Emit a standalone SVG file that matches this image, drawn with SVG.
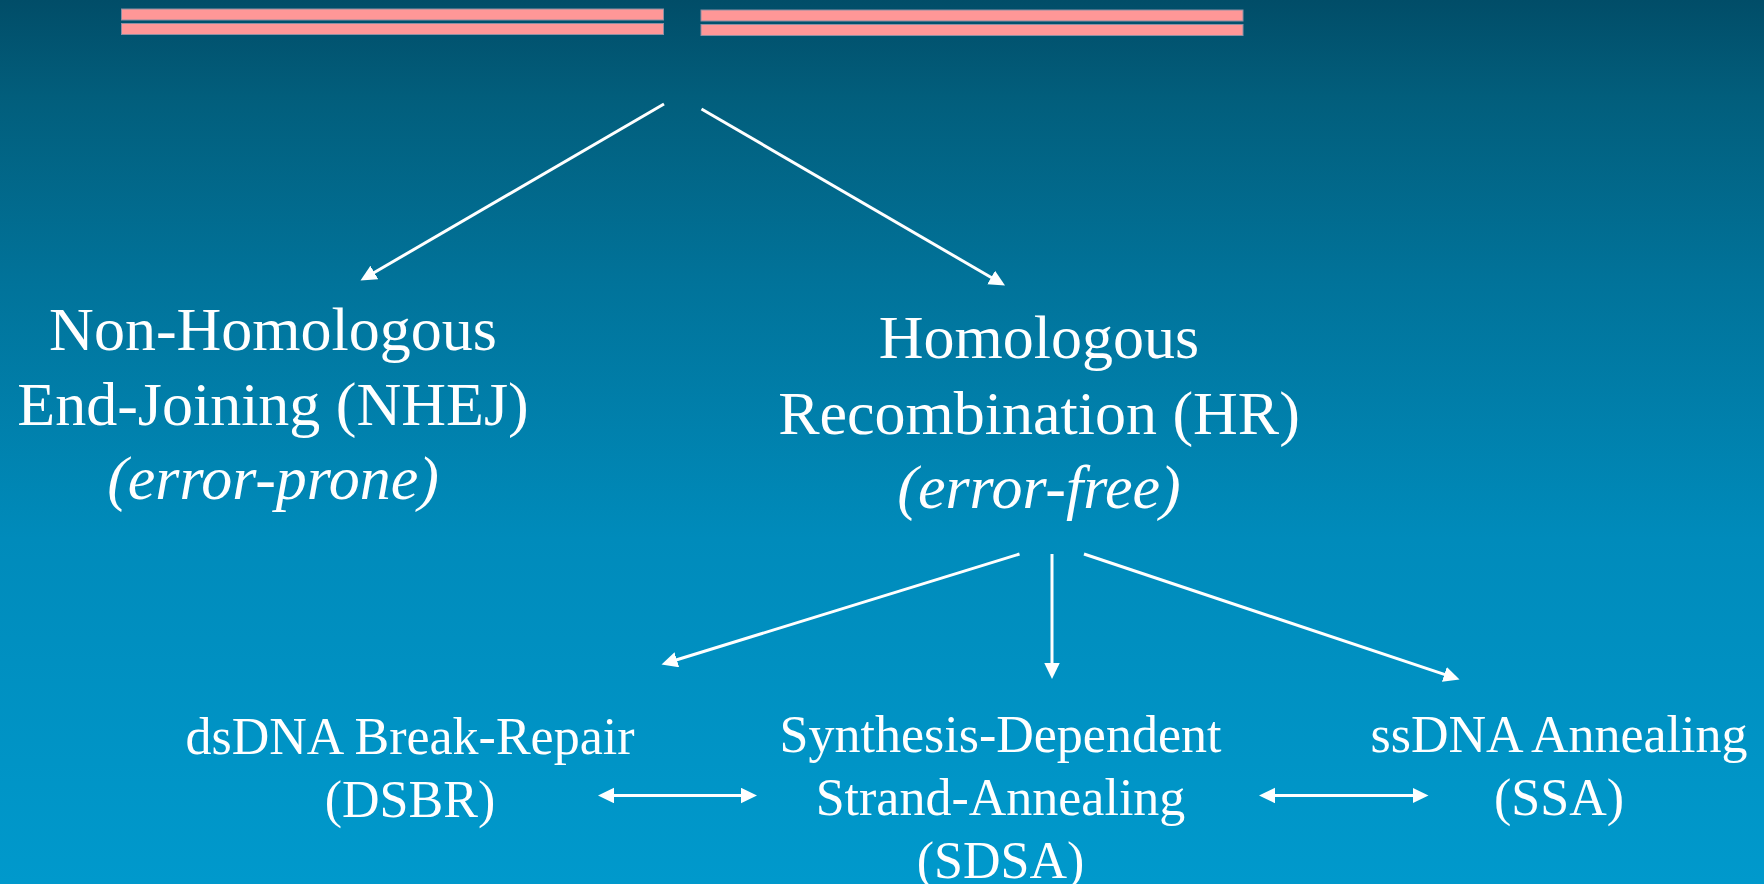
<svg xmlns="http://www.w3.org/2000/svg" width="1764" height="884" viewBox="0 0 1764 884">
  <defs>
    <linearGradient id="bg" x1="0" y1="0" x2="0" y2="1">
      <stop offset="0" stop-color="#014d68"/>
      <stop offset="0.11" stop-color="#025e7c"/>
      <stop offset="0.32" stop-color="#01739a"/>
      <stop offset="0.61" stop-color="#008bbb"/>
      <stop offset="1" stop-color="#0099cc"/>
    </linearGradient>
    <marker id="head" markerUnits="userSpaceOnUse" markerWidth="17" markerHeight="16" viewBox="0 0 17 16" refX="11" refY="7.75" orient="auto-start-reverse">
      <path d="M0,0 L16,7.75 L0,15.5 z" fill="#ffffff"/>
    </marker>
    <style>
      .strand { fill: #ff9797; stroke: #8d8fa3; stroke-width: 1; }
      .conn { stroke: #ffffff; stroke-width: 3; fill: none; marker-end: url(#head); }
      .both { marker-start: url(#head); }
      text { font-family: "Liberation Serif", "Times New Roman", serif; fill: #ffffff; text-anchor: middle; }
      .big { font-size: 62px; }
      .small { font-size: 52px; }
      .it { font-style: italic; }
    </style>
  </defs>

  <rect x="0" y="0" width="1764" height="884" fill="url(#bg)"/>

  <!-- broken double strand -->
  <g id="dsb">
    <rect class="strand" x="121.5" y="9" width="542" height="11"/>
    <rect class="strand" x="121.5" y="23.5" width="542" height="11"/>
    <rect class="strand" x="701" y="10" width="542" height="11"/>
    <rect class="strand" x="701" y="24.5" width="542" height="11"/>
  </g>

  <!-- arrows: tip sits 5px past each line end -->
  <g id="connectors">
    <line class="conn" x1="664" y1="104" x2="364.8" y2="278"/>
    <line class="conn" x1="701.5" y1="109" x2="1000.7" y2="283"/>
    <line class="conn" x1="1019.5" y1="554" x2="666.3" y2="663"/>
    <line class="conn" x1="1052" y1="554" x2="1052" y2="674"/>
    <line class="conn" x1="1084" y1="554" x2="1454.8" y2="677.9"/>
    <line class="conn both" x1="603" y1="795.5" x2="752" y2="795.5"/>
    <line class="conn both" x1="1264" y1="795.5" x2="1423.5" y2="795.5"/>
  </g>

  <g id="nhej">
    <text class="big" x="273" y="350">Non-Homologous</text>
    <text class="big" x="273" y="425">End-Joining (NHEJ)</text>
    <text class="big it" x="273" y="499">(error-prone)</text>
  </g>

  <g id="hr">
    <text class="big" x="1039" y="358">Homologous</text>
    <text class="big" x="1039" y="434">Recombination (HR)</text>
    <text class="big it" x="1039" y="508">(error-free)</text>
  </g>

  <g id="dsbr">
    <text class="small" x="410" y="754">dsDNA Break-Repair</text>
    <text class="small" x="410" y="817">(DSBR)</text>
  </g>

  <g id="sdsa">
    <text class="small" x="1000.5" y="751.5">Synthesis-Dependent</text>
    <text class="small" x="1000.5" y="814.5">Strand-Annealing</text>
    <text class="small" x="1000.5" y="877.5">(SDSA)</text>
  </g>

  <g id="ssa">
    <text class="small" x="1559" y="751.5">ssDNA Annealing</text>
    <text class="small" x="1559" y="814.5">(SSA)</text>
  </g>
</svg>
